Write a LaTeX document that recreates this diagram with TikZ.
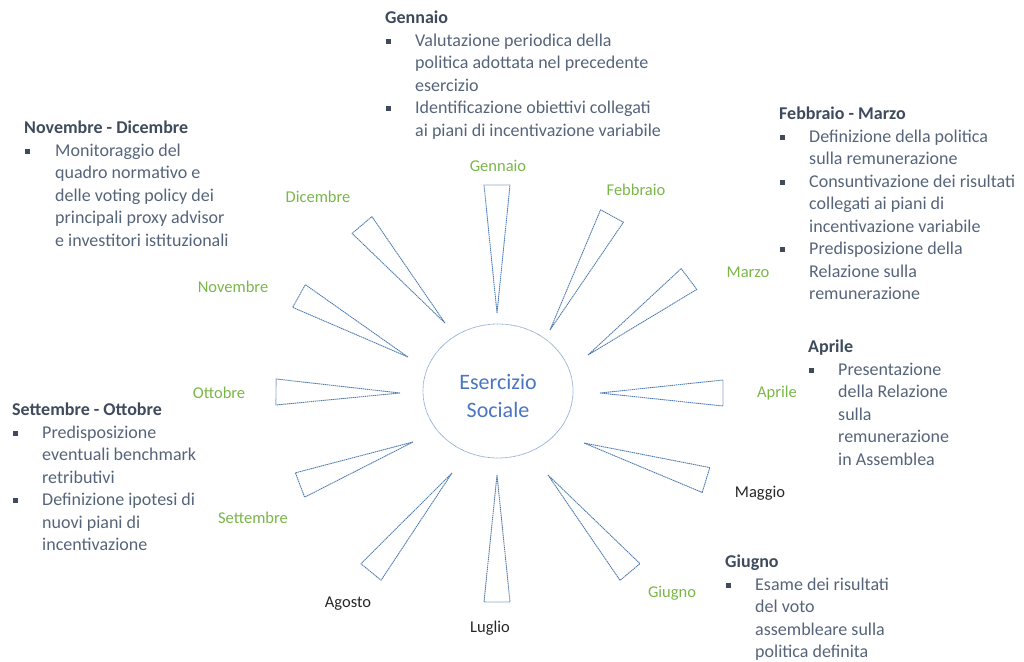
\documentclass[tikz,border=0pt]{standalone}
\usepackage{fontspec}
\setmainfont{Carlito}
\usepackage{tikz}
\usetikzlibrary{calc,shapes.geometric}
\usepackage{xcolor}
\definecolor{rayc}{HTML}{4F7DB0}
\definecolor{hubc}{HTML}{8DA8D2}
\definecolor{hubtxtc}{HTML}{4A76C0}
\definecolor{monc}{HTML}{7AB648}
\definecolor{headc}{HTML}{3F4B5C}
\definecolor{bodyc}{HTML}{56647A}
\def\blt{\hspace*{1pt}{\color{headc}\rule[2.5pt]{5pt}{5pt}}}
\def\hd#1{\multicolumn{2}{@{}l@{}}{\textcolor{headc}{\textbf{#1}}}}

\begin{document}
\begin{tikzpicture}[x=1pt, y=-1pt,
    ray/.style={draw=rayc, line width=0.9pt, dash pattern=on 1.4pt off 0.6pt, line join=round},
    hub/.style={ellipse, draw=hubc, line width=0.8pt, dash pattern=on 0.8pt off 0.5pt, minimum width=150pt, minimum height=134pt},
    hubtxt/.style={text=hubtxtc, font=\fontsize{22}{28}\selectfont, align=center},
    mon/.style={text=monc, font=\fontsize{16.5}{18}\selectfont},
    monk/.style={mon, text=black!85},
    blk/.style={anchor=north west, inner sep=0pt, text=bodyc, font=\fontsize{18}{22.5}\selectfont}]
  \useasboundingbox (0,0) rectangle (1024,661);
  % centre
  \node[hub] (hub) at (498,391) {};
  \node[hubtxt] (hubtxt) at (498,396) {Esercizio\\Sociale};
  % rays: tip / base centre
  \foreach \nm/\tx/\ty/\bx/\by in {gen/497/313/497/185, feb/550/330/612/216, mar/588/355/689/279,
      apr/600/393/723/393, mag/584/443/706/480, giu/548/475/630/572, lug/497/475/497/602,
      ago/452/473/371/572, set/413/442/300/485, ott/400/393/276/392, nov/408/357/299/296,
      dic/445/323/362/225}{
    \coordinate (\nm-tip) at (\tx,\ty);
    \coordinate (\nm-base) at (\bx,\by);
    \draw[ray] (\nm-tip) -- ($(\nm-base)!13pt!90:(\nm-tip)$) -- ($(\nm-base)!13pt!-90:(\nm-tip)$) -- cycle;
  }
  % month labels
  \node[mon] (l-gen) at (498,166) {Gennaio};
  \node[mon] (l-feb) at (636,190) {Febbraio};
  \node[mon] (l-mar) at (748,272) {Marzo};
  \node[mon] (l-apr) at (777,393) {Aprile};
  \node[monk] (l-mag) at (760,493) {Maggio};
  \node[mon] (l-giu) at (672,593) {Giugno};
  \node[monk] (l-lug) at (490,628) {Luglio};
  \node[monk] (l-ago) at (348,604) {Agosto};
  \node[mon] (l-set) at (253,518) {Settembre};
  \node[mon] (l-ott) at (219,393) {Ottobre};
  \node[mon] (l-nov) at (233,287) {Novembre};
  \node[mon] (l-dic) at (318,197) {Dicembre};
  % activity blocks
  \node[blk] (t-gen) at (385,8) {\begin{tabular}{@{}p{30pt}@{}l@{}}
    \hd{Gennaio}\\
    \blt & Valutazione periodica della\\
         & politica adottata nel precedente\\
         & esercizio\\
    \blt & Identificazione obiettivi collegati\\
         & ai piani di incentivazione variabile
  \end{tabular}};
  \node[blk] (t-nov) at (24,118) {\begin{tabular}{@{}p{31pt}@{}l@{}}
    \hd{Novembre - Dicembre}\\
    \blt & Monitoraggio del\\
         & quadro normativo e\\
         & delle voting policy dei\\
         & principali proxy advisor\\
         & e investitori istituzionali
  \end{tabular}};
  \node[blk] (t-feb) at (779,104) {\begin{tabular}{@{}p{30pt}@{}l@{}}
    \hd{Febbraio - Marzo}\\
    \blt & Definizione della politica\\
         & sulla remunerazione\\
    \blt & Consuntivazione dei risultati\\
         & collegati ai piani di\\
         & incentivazione variabile\\
    \blt & Predisposizione della\\
         & Relazione sulla\\
         & remunerazione
  \end{tabular}};
  \node[blk] (t-apr) at (808,337) {\begin{tabular}{@{}p{30pt}@{}l@{}}
    \hd{Aprile}\\
    \blt & Presentazione\\
         & della Relazione\\
         & sulla\\
         & remunerazione\\
         & in Assemblea
  \end{tabular}};
  \node[blk] (t-giu) at (725,552) {\begin{tabular}{@{}p{30pt}@{}l@{}}
    \hd{Giugno}\\
    \blt & Esame dei risultati\\
         & del voto\\
         & assembleare sulla\\
         & politica definita
  \end{tabular}};
  \node[blk] (t-set) at (12,400) {\begin{tabular}{@{}p{30pt}@{}l@{}}
    \hd{Settembre - Ottobre}\\
    \blt & Predisposizione\\
         & eventuali benchmark\\
         & retributivi\\
    \blt & Definizione ipotesi di\\
         & nuovi piani di\\
         & incentivazione
  \end{tabular}};
\end{tikzpicture}
\end{document}
